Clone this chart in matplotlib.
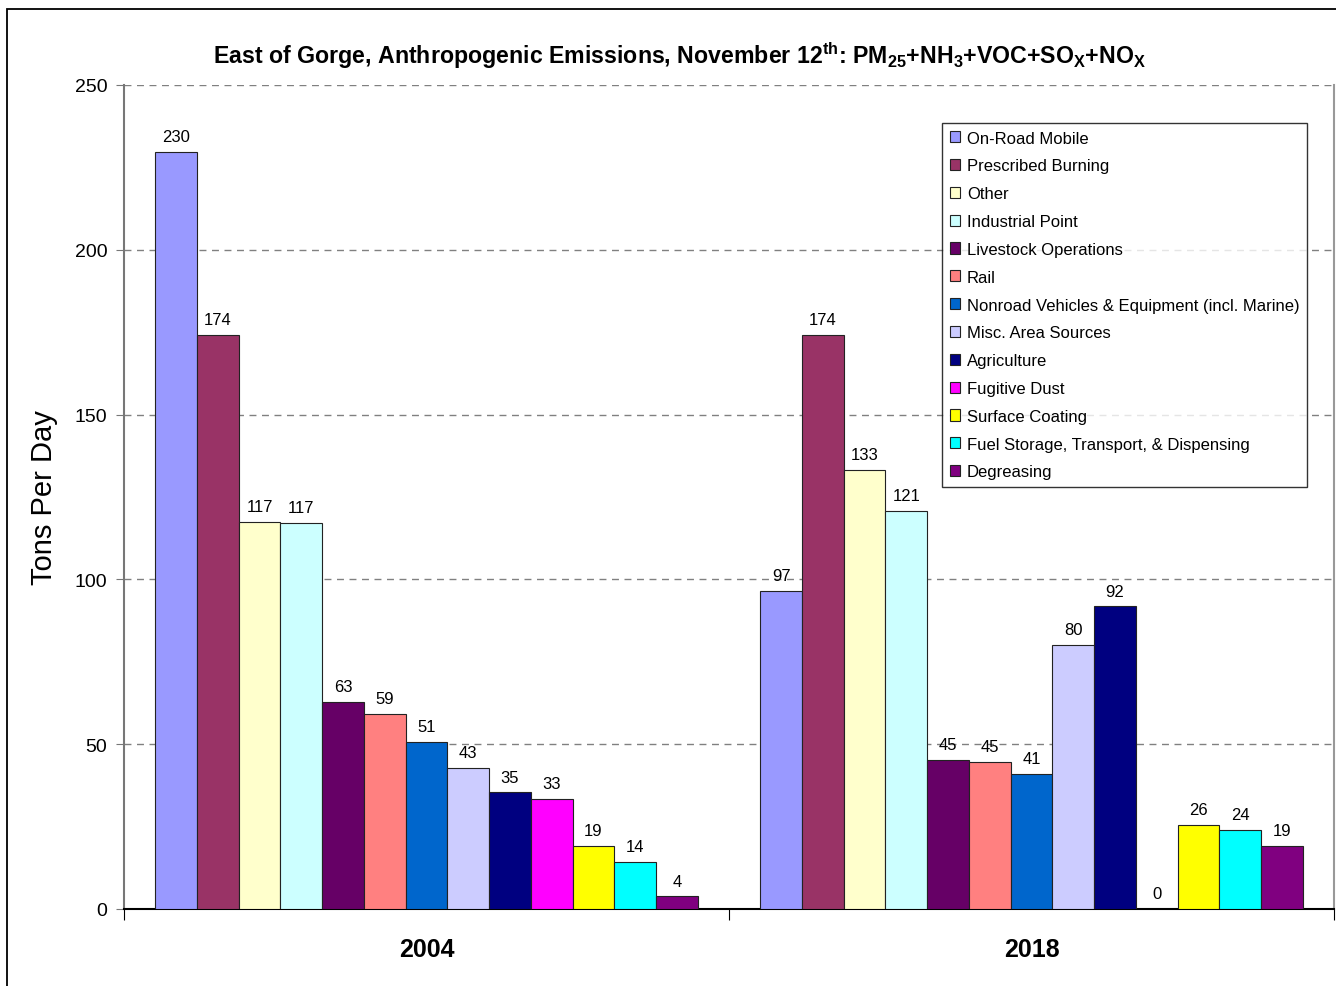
import matplotlib
matplotlib.use("Agg")
import matplotlib.pyplot as plt
from matplotlib.patches import Rectangle
import numpy as np

plt.rcParams['font.family'] = ['Liberation Sans', 'DejaVu Sans']
plt.rcParams['mathtext.fontset'] = 'custom'
plt.rcParams['mathtext.bf'] = 'Liberation Sans:bold'
plt.rcParams['mathtext.rm'] = 'Liberation Sans'

years = ["2004", "2018"]
sources = ["On-Road Mobile", "Prescribed Burning", "Other", "Industrial Point",
           "Livestock Operations", "Rail", "Nonroad Vehicles & Equipment (incl. Marine)",
           "Misc. Area Sources", "Agriculture", "Fugitive Dust", "Surface Coating",
           "Fuel Storage, Transport, & Dispensing", "Degreasing"]
values_2004 = [229.7, 174.2, 117.4, 117.1, 62.8, 59.2, 50.7, 42.8, 35.4, 33.4, 19.1, 14.4, 3.9]
values_2018 = [96.6, 174.2, 133.2, 120.8, 45.2, 44.6, 41.0, 80.1, 91.9, 0.0, 25.5, 24.0, 19.1]
colors = ["#9999FF", "#993366", "#FFFFCC", "#CCFFFF", "#660066", "#FF8080", "#0066CC",
          "#CCCCFF", "#000080", "#FF00FF", "#FFFF00", "#00FFFF", "#800080"]

W, H = 1336, 987
fig = plt.figure(figsize=(W / 100, H / 100), dpi=100)
ax = fig.add_axes([124 / W, 1 - 910 / H, 1210 / W, 824 / H])

# outer chart frame
fig.patches.append(Rectangle((7 / W, -0.1), 1.2, 1 - 10 / H + 0.1, transform=fig.transFigure,
                             fill=False, edgecolor="black", linewidth=1.3))

n = len(sources)
bw = 1.0 / (n + 1.5)
x = np.arange(len(years))
data = np.array([values_2004, values_2018])
for i in range(n):
    pos = x - 0.5 + 0.75 * bw + i * bw
    vals = data[:, i]
    ax.bar(pos, vals, width=bw, align="edge", color=colors[i], edgecolor="#222222",
           linewidth=0.8, label=sources[i], zorder=3)
    for p, v in zip(pos, vals):
        ax.text(p + bw / 2, v + 2.3, f"{v:.0f}", ha="center", va="bottom", fontsize=12, zorder=4)

ax.set_xlim(-0.5, 1.5)
ax.set_ylim(0, 250)
ax.set_yticks([0, 50, 100, 150, 200, 250])
ax.tick_params(axis="y", direction="out", length=6, labelsize=14, color="#777777", pad=6)
ax.set_xticks([-0.5, 0.5, 1.5])
ax.set_xticklabels([])
ax.tick_params(axis="x", direction="out", length=8, color="black")
for xi, lab in zip(x, years):
    ax.text(xi, -12.2, lab, ha="center", va="center", fontsize=18, fontweight="bold",
            transform=ax.transData)

for yv in [50, 100, 150, 200, 250]:
    ax.axhline(yv, color="#808080", linestyle=(0, (5, 4)), linewidth=1.0, zorder=1)

ax.spines["top"].set_visible(False)
ax.spines["left"].set_color("#777777")
ax.spines["left"].set_linewidth(1.5)
ax.spines["right"].set_color("#999999")
ax.spines["right"].set_linewidth(1.5)
ax.spines["bottom"].set_color("black")
ax.spines["bottom"].set_linewidth(1.5)

ax.set_ylabel("Tons Per Day", fontsize=21, labelpad=12)

fig.text(680 / W, 1 - 56 / H,
         r"East of Gorge, Anthropogenic Emissions, November 12$^{\mathbf{th}}$: PM$_{\mathbf{25}}$+NH$_{\mathbf{3}}$+VOC+SO$_{\mathbf{X}}$+NO$_{\mathbf{X}}$",
         ha="center", va="center", fontsize=16.7, fontweight="bold")

leg = ax.legend(loc="upper left", bbox_to_anchor=((942 - 124) / 1210, (910 - 124) / 824),
                fontsize=12, frameon=True, fancybox=False, edgecolor="black",
                handlelength=0.65, handleheight=0.65, handletextpad=0.4, labelspacing=0.77,
                borderpad=0.45, borderaxespad=0)
leg.get_frame().set_linewidth(1.0)

fig.savefig("out.png", dpi=100, facecolor="white")
